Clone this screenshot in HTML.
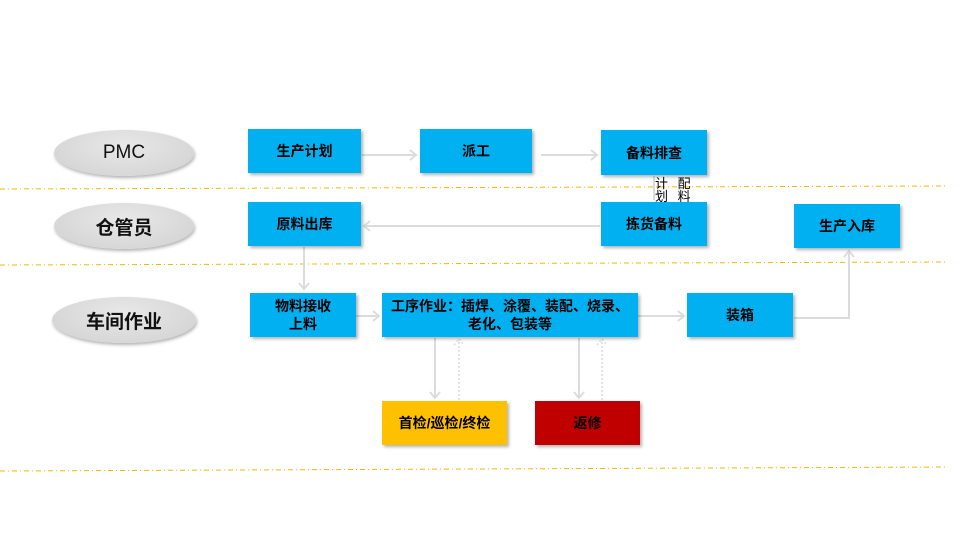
<!DOCTYPE html>
<html><head><meta charset="utf-8"><style>
body{margin:0;width:960px;height:540px;background:#fff;position:relative;overflow:hidden;font-family:"Liberation Sans","Noto Sans CJK SC",sans-serif;}
.b{position:absolute;background:#00b0f0;color:#000;font-weight:bold;font-size:14px;display:flex;align-items:center;justify-content:center;text-align:center;box-shadow:2px 2px 3px rgba(0,0,0,.3);line-height:18px}
.e{position:absolute;width:140px;height:46px;border-radius:50%;background:radial-gradient(ellipse at 50% 35%,#e8e8e8,#d0d0d0);box-shadow:1px 2px 3px rgba(0,0,0,.3);display:flex;align-items:center;justify-content:center;font-size:19px;font-weight:bold;color:#111}
</style></head><body>
<svg width="960" height="540" style="position:absolute;left:0;top:0">
<g stroke="#f5b800" stroke-width="1" stroke-dasharray="5,3,1,3" fill="none">
<line x1="0" y1="189" x2="948" y2="186"/><line x1="0" y1="265" x2="948" y2="262"/><line x1="0" y1="471" x2="948" y2="467"/></g>
<g stroke="#dcdcdc" stroke-width="2" fill="none">
<line x1="362" y1="155" x2="416" y2="155"/><polyline points="410,150 416,155 410,160"/>
<line x1="541" y1="155" x2="597" y2="155"/><polyline points="591,150 597,155 591,160"/>
<line x1="600" y1="226" x2="364" y2="226"/><polyline points="370,221 364,226 370,231"/>
<line x1="304" y1="247" x2="304" y2="289"/><polyline points="299,283 304,289 309,283"/>
<line x1="356" y1="316" x2="379" y2="316"/><polyline points="373,311 379,316 373,321"/>
<line x1="638" y1="316" x2="684" y2="316"/><polyline points="678,311 684,316 678,321"/>
<polyline points="794,318 849,318 849,251"/><polyline points="844,257 849,251 854,257"/>
<line x1="435" y1="338" x2="435" y2="398"/><polyline points="430,392 435,398 440,392"/>
<line x1="579" y1="338" x2="579" y2="398"/><polyline points="574,392 579,398 584,392"/>
<line x1="654" y1="176" x2="654" y2="200"/>
</g>
<g stroke="#e4e4e4" stroke-width="2" stroke-dasharray="2,2" fill="none">
<line x1="459" y1="400" x2="459" y2="339"/><polyline points="454,345 459,339 464,345"/>
<line x1="602" y1="400" x2="602" y2="339"/><polyline points="597,345 602,339 607,345"/>
</g>
</svg>
<div class="e" style="left:54px;top:130px;font-weight:normal">PMC</div>
<div class="e" style="left:54px;top:203px">仓管员</div>
<div class="e" style="left:52px;top:297px;width:144px">车间作业</div>
<div class="b" style="left:248px;top:129px;width:113px;height:44px">生产计划</div>
<div class="b" style="left:420px;top:129px;width:112px;height:44px">派工</div>
<div class="b" style="left:601px;top:130px;width:106px;height:45px">备料排查</div>
<div style="position:absolute;left:655px;top:177px;font-size:13px;line-height:13px;width:40px;letter-spacing:3px">计 配<br>划 料</div>
<div class="b" style="left:248px;top:202px;width:113px;height:44px">原料出库</div>
<div class="b" style="left:601px;top:202px;width:106px;height:44px">拣货备料</div>
<div class="b" style="left:794px;top:204px;width:106px;height:44px">生产入库</div>
<div class="b" style="left:250px;top:293px;width:106px;height:44px">物料接收<br>上料</div>
<div class="b" style="left:382px;top:293px;width:256px;height:44px">工序作业：插焊、涂覆、装配、烧录、<br>老化、包装等</div>
<div class="b" style="left:687px;top:293px;width:106px;height:44px">装箱</div>
<div class="b" style="left:382px;top:401px;width:125px;height:44px;background:#ffc000">首检/巡检/终检</div>
<div class="b" style="left:535px;top:401px;width:105px;height:44px;background:#c00000">返修</div>
</body></html>
